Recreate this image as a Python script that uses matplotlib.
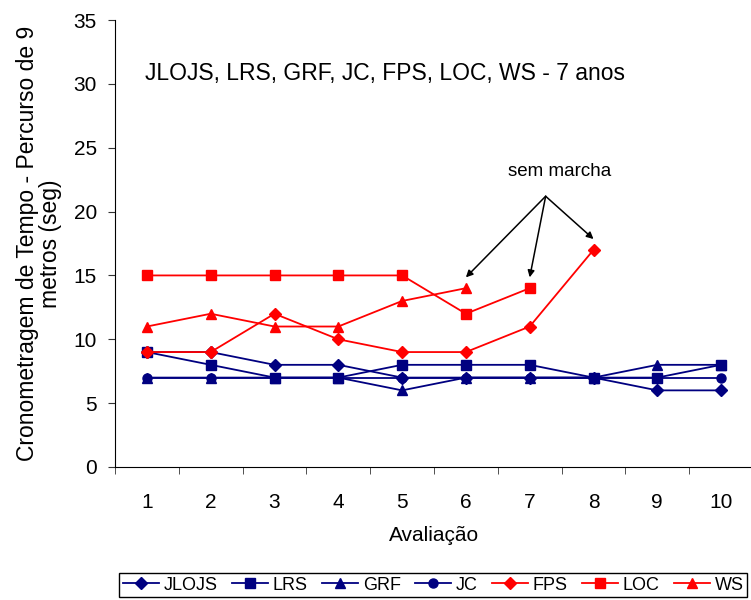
import numpy as np
import matplotlib
matplotlib.use('Agg')
import matplotlib.pyplot as plt
from matplotlib.ticker import FixedLocator

plt.rcParams['font.family'] = ['Liberation Sans', 'DejaVu Sans']

avaliacoes = [1, 2, 3, 4, 5, 6, 7, 8, 9, 10]
jlojs = [9, 9, 8, 8, 7, 7, 7, 7, 6, 6]
lrs = [9, 8, 7, 7, 8, 8, 8, 7, 7, 8]
grf = [7, 7, 7, 7, 6, 7, 7, 7, 8, 8]
jc = [7, 7, 7, 7, 7, 7, 7, 7, 7, 7]
fps = [9, 9, 12, 10, 9, 9, 11, 17]
loc = [15, 15, 15, 15, 15, 12, 14]
ws = [11, 12, 11, 11, 13, 14]

navy = '#000080'
red = '#FF0000'

fig = plt.figure(figsize=(7.51, 6), dpi=100)
ax = fig.add_axes([115 / 751, 1 - 467 / 600, 638 / 751, 447 / 600])

series = [
    ('JLOJS', jlojs, navy, 'D', 6),
    ('LRS', lrs, navy, 's', 6.5),
    ('GRF', grf, navy, '^', 7.5),
    ('JC', jc, navy, 'o', 6.5),
    ('FPS', fps, red, 'D', 6),
    ('LOC', loc, red, 's', 6.5),
    ('WS', ws, red, '^', 7.5),
]
for nome, vals, cor, mk, ms in series:
    ax.plot(avaliacoes[:len(vals)], vals, color=cor, marker=mk, markersize=ms,
            linewidth=1.3, label=nome)

ax.set_xlim(0.5, 10.5)
ax.set_ylim(0, 35)
ax.set_yticks(np.arange(0, 36, 5))
ax.set_xticks(avaliacoes)
ax.xaxis.set_minor_locator(FixedLocator(np.arange(0.5, 11, 1)))
ax.tick_params(axis='x', which='major', length=0, labelsize=15, pad=19)
ax.tick_params(axis='x', which='minor', length=5, direction='out', color='#333333')
ax.tick_params(axis='y', length=5, direction='out', labelsize=15, pad=8,
               color='#333333')
ax.spines['top'].set_visible(False)
ax.spines['right'].set_visible(False)

ax.set_xlabel('Avaliação', fontsize=15, labelpad=10)
ax.set_ylabel('Cronometragem de Tempo - Percurso de 9\nmetros (seg)', fontsize=16.5,
              labelpad=8, linespacing=1.05)

ax.text(4.73, 30.8, 'JLOJS, LRS, GRF, JC, FPS, LOC, WS - 7 anos', fontsize=16.5,
        ha='center', va='center')

# anotacao "sem marcha"
ax.text(7.47, 23.1, 'sem marcha', fontsize=13.5, ha='center', va='center')
origem = (7.25, 21.2)
for x, y in [(6, ws[5]), (7, loc[6]), (8, fps[7])]:
    ax.annotate('', xy=(x, y + 0.85), xytext=origem,
                arrowprops=dict(arrowstyle='-|>', color='black', lw=1.1,
                                mutation_scale=10, shrinkA=0, shrinkB=0))

leg = fig.legend(loc='center', bbox_to_anchor=(0.577, 0.025), ncol=7,
                 fontsize=13, frameon=True, fancybox=False, edgecolor='black',
                 framealpha=1, handlelength=2.0, handletextpad=0.25,
                 columnspacing=0.8, borderpad=0.2, borderaxespad=0)
leg.get_frame().set_linewidth(1.0)

fig.savefig('out.png', dpi=100)
